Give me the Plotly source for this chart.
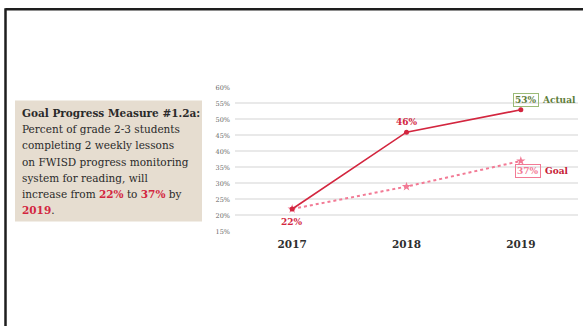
import plotly.graph_objects as go

# Chart data
years = ["2017", "2018", "2019"]
actual = [22, 46, 53]
goal = [22, 29, 37]
y_ticks = [15, 20, 25, 30, 35, 40, 45, 50, 55, 60]

W, H = 583, 330
CRIMSON = "#d3263f"
PINK = "#f27a95"
GREEN = "#5e7d3a"
SERIF = "DejaVu Serif"


def px(x):
    return x / W


def py(y):
    return 1 - y / H


fig = go.Figure()

fig.add_trace(go.Scatter(
    x=years, y=goal, mode="lines+markers",
    line=dict(color=PINK, width=2, dash="dot"),
    marker=dict(symbol="star", size=7, color=PINK),
    hoverinfo="skip", showlegend=False,
))
fig.add_trace(go.Scatter(
    x=years, y=actual, mode="lines+markers",
    line=dict(color=CRIMSON, width=1.6),
    marker=dict(symbol="circle", size=5, color=CRIMSON),
    hoverinfo="skip", showlegend=False,
))

annotations = []

# Point labels (category index positions on the x axis)
annotations.append(dict(x=1, y=actual[1], xref="x", yref="y", text="<b>%d%%</b>" % actual[1],
                        showarrow=False, yshift=10, font=dict(family=SERIF, size=9, color=CRIMSON)))
annotations.append(dict(x=0, y=actual[0], xref="x", yref="y", text="<b>%d%%</b>" % actual[0],
                        showarrow=False, yshift=-13, font=dict(family=SERIF, size=9, color=CRIMSON)))

# Series end labels
annotations.append(dict(x=2, y=actual[2], xref="x", yref="y", text="<b>%d%%</b>" % actual[2],
                        showarrow=False, xshift=5, yshift=10,
                        bordercolor="#9bbb78", borderwidth=1, borderpad=1,
                        font=dict(family=SERIF, size=9, color=GREEN)))
annotations.append(dict(x=2, y=actual[2], xref="x", yref="y", text="<b>Actual</b>",
                        showarrow=False, xanchor="left", xshift=19, yshift=10,
                        font=dict(family=SERIF, size=9, color=GREEN)))
annotations.append(dict(x=2, y=goal[2], xref="x", yref="y", text="<b>%d%%</b>" % goal[2],
                        showarrow=False, xshift=7, yshift=-10,
                        bordercolor=PINK, borderwidth=1, borderpad=1,
                        font=dict(family=SERIF, size=9, color=PINK)))
annotations.append(dict(x=2, y=goal[2], xref="x", yref="y", text="<b>Goal</b>",
                        showarrow=False, xanchor="left", xshift=22, yshift=-10,
                        font=dict(family=SERIF, size=9, color="#c62035")))

# Description panel text
red = lambda s: "<b><span style='color:%s'>%s</span></b>" % (CRIMSON, s)
lines = [
    "<b>Goal Progress Measure #1.2a:</b>",
    "Percent of grade 2-3 students",
    "completing 2 weekly lessons",
    "on FWISD progress monitoring",
    "system for reading, will",
    "increase from %s to %s by" % (red("22%"), red("37%")),
    red("2019") + ".",
]
for i, t in enumerate(lines):
    annotations.append(dict(x=px(20), y=py(112 + 16.5 * i), xref="paper", yref="paper",
                            text=t, showarrow=False, xanchor="left", yanchor="middle",
                            font=dict(family=SERIF, size=10.5, color="#2a2a2a")))

shapes = [
    # description panel background
    dict(type="rect", xref="paper", yref="paper", x0=px(15), x1=px(202), y0=py(99), y1=py(223),
         fillcolor="#e6ddd0", line=dict(width=0), layer="below"),
    # frame edges
    dict(type="line", xref="paper", yref="paper", x0=px(5.5), x1=1, y0=py(5.5), y1=py(5.5),
         line=dict(color="#1e1e1e", width=2.5)),
    dict(type="line", xref="paper", yref="paper", x0=px(5.5), x1=px(5.5), y0=py(4.3), y1=0,
         line=dict(color="#1e1e1e", width=2.5)),
]

fig.update_layout(
    width=W, height=H,
    margin=dict(l=0, r=0, t=0, b=0),
    paper_bgcolor="white", plot_bgcolor="white",
    annotations=annotations, shapes=shapes,
    xaxis=dict(type="category", domain=[px(235), px(578)], range=[-0.5, 2.5], showgrid=False,
               zeroline=False, showline=False, ticks="", ticklabelstandoff=5,
               tickfont=dict(family=SERIF, size=10.5, color="#2e2e2e"),
               tickprefix="<b>", ticksuffix="</b>", fixedrange=True),
    yaxis=dict(domain=[py(233), py(85.5)], range=[15, 60], tickvals=y_ticks,
               ticktext=["%d%%" % v for v in y_ticks], showgrid=True, gridcolor="#e9e9e9",
               gridwidth=1.5, zeroline=False, showline=False, ticks="", ticklabelstandoff=4,
               tickfont=dict(family=SERIF, size=6.5, color="#666666"), fixedrange=True),
)

fig.write_html("out.html")
